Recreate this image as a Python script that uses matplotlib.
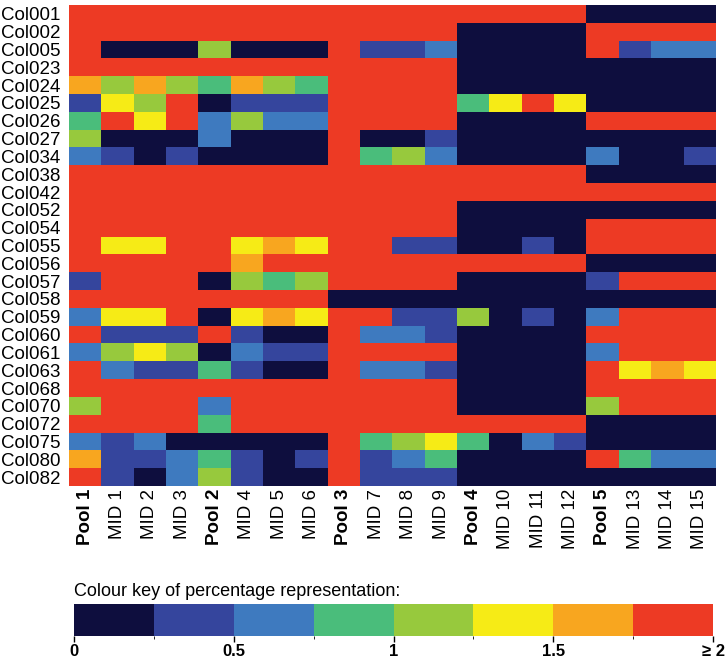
import numpy as np
import matplotlib
matplotlib.use("Agg")
import matplotlib.pyplot as plt
from matplotlib.colors import ListedColormap, BoundaryNorm
from matplotlib.cm import ScalarMappable

plt.rcParams['font.family'] = ['Liberation Sans', 'DejaVu Sans']

rows = ["Col001", "Col002", "Col005", "Col023", "Col024", "Col025", "Col026",
        "Col027", "Col034", "Col038", "Col042", "Col052", "Col054", "Col055",
        "Col056", "Col057", "Col058", "Col059", "Col060", "Col061", "Col063",
        "Col068", "Col070", "Col072", "Col075", "Col080", "Col082"]
cols = ["Pool 1", "MID 1", "MID 2", "MID 3", "Pool 2", "MID 4", "MID 5", "MID 6",
        "Pool 3", "MID 7", "MID 8", "MID 9", "Pool 4", "MID 10", "MID 11", "MID 12",
        "Pool 5", "MID 13", "MID 14", "MID 15"]

# percentage representation (values >= 2 shown as 2)
pct = [
    [2, 2, 2, 2, 2, 2, 2, 2, 2, 2, 2, 2, 2, 2, 2, 2, .1, .1, .1, .1],
    [2, 2, 2, 2, 2, 2, 2, 2, 2, 2, 2, 2, .1, .1, .1, .1, 2, 2, 2, 2],
    [2, .1, .1, .1, 1.1, .1, .1, .1, 2, .4, .4, .6, .1, .1, .1, .1, 2, .4, .6, .6],
    [2, 2, 2, 2, 2, 2, 2, 2, 2, 2, 2, 2, .1, .1, .1, .1, .1, .1, .1, .1],
    [1.6, 1.1, 1.6, 1.1, .9, 1.6, 1.1, .9, 2, 2, 2, 2, .1, .1, .1, .1, .1, .1, .1, .1],
    [.4, 1.4, 1.1, 2, .1, .4, .4, .4, 2, 2, 2, 2, .9, 1.4, 2, 1.4, .1, .1, .1, .1],
    [.9, 2, 1.4, 2, .6, 1.1, .6, .6, 2, 2, 2, 2, .1, .1, .1, .1, 2, 2, 2, 2],
    [1.1, .1, .1, .1, .6, .1, .1, .1, 2, .1, .1, .4, .1, .1, .1, .1, .1, .1, .1, .1],
    [.6, .4, .1, .4, .1, .1, .1, .1, 2, .9, 1.1, .6, .1, .1, .1, .1, .6, .1, .1, .4],
    [2, 2, 2, 2, 2, 2, 2, 2, 2, 2, 2, 2, 2, 2, 2, 2, .1, .1, .1, .1],
    [2, 2, 2, 2, 2, 2, 2, 2, 2, 2, 2, 2, 2, 2, 2, 2, 2, 2, 2, 2],
    [2, 2, 2, 2, 2, 2, 2, 2, 2, 2, 2, 2, .1, .1, .1, .1, .1, .1, .1, .1],
    [2, 2, 2, 2, 2, 2, 2, 2, 2, 2, 2, 2, .1, .1, .1, .1, 2, 2, 2, 2],
    [2, 1.4, 1.4, 2, 2, 1.4, 1.6, 1.4, 2, 2, .4, .4, .1, .1, .4, .1, 2, 2, 2, 2],
    [2, 2, 2, 2, 2, 1.6, 2, 2, 2, 2, 2, 2, 2, 2, 2, 2, .1, .1, .1, .1],
    [.4, 2, 2, 2, .1, 1.1, .9, 1.1, 2, 2, 2, 2, .1, .1, .1, .1, .4, 2, 2, 2],
    [2, 2, 2, 2, 2, 2, 2, 2, .1, .1, .1, .1, .1, .1, .1, .1, .1, .1, .1, .1],
    [.6, 1.4, 1.4, 2, .1, 1.4, 1.6, 1.4, 2, 2, .4, .4, 1.1, .1, .4, .1, .6, 2, 2, 2],
    [2, .4, .4, .4, 2, .4, .1, .1, 2, .6, .6, .4, .1, .1, .1, .1, 2, 2, 2, 2],
    [.6, 1.1, 1.4, 1.1, .1, .6, .4, .4, 2, 2, 2, 2, .1, .1, .1, .1, .6, 2, 2, 2],
    [2, .6, .4, .4, .9, .4, .1, .1, 2, .6, .6, .4, .1, .1, .1, .1, 2, 1.4, 1.6, 1.4],
    [2, 2, 2, 2, 2, 2, 2, 2, 2, 2, 2, 2, .1, .1, .1, .1, 2, 2, 2, 2],
    [1.1, 2, 2, 2, .6, 2, 2, 2, 2, 2, 2, 2, .1, .1, .1, .1, 1.1, 2, 2, 2],
    [2, 2, 2, 2, .9, 2, 2, 2, 2, 2, 2, 2, 2, 2, 2, 2, .1, .1, .1, .1],
    [.6, .4, .6, .1, .1, .1, .1, .1, 2, .9, 1.1, 1.4, .9, .1, .6, .4, .1, .1, .1, .1],
    [1.6, .4, .4, .6, .9, .4, .1, .4, 2, .4, .6, .9, .1, .1, .1, .1, 2, .9, .6, .6],
    [2, .4, .1, .6, 1.1, .4, .1, .1, 2, .4, .4, .4, .1, .1, .1, .1, .1, .1, .1, .1],
]

key_colours = ['#0e0e3e', '#35459d', '#3e7abf', '#4abd7b',
               '#97c93d', '#f6eb16', '#f8a61f', '#ed3a24']
bounds = np.arange(0, 2.01, 0.25)

cmap = ListedColormap(key_colours)
norm = BoundaryNorm(bounds, ncolors=8, clip=True)

fig = plt.figure(figsize=(7.27, 6.59), dpi=100)
ax = fig.add_axes([69 / 727, 1 - 486 / 659, 647 / 727, 481 / 659])
data = np.clip(np.array(pct), 0, 1.99)
ax.imshow(data, cmap=cmap, norm=norm, aspect='auto', interpolation='nearest')

ax.set_yticks(range(len(rows)))
ax.set_yticklabels(rows, fontsize=13.5)
ax.set_xticks(range(len(cols)))
ax.set_xticklabels(cols, rotation=90, fontsize=13.5)
for lab in ax.get_xticklabels():
    if lab.get_text().startswith("Pool"):
        lab.set_fontweight('bold')
ax.tick_params(axis='y', length=0, pad=6)
ax.tick_params(axis='x', length=0, pad=2)
for s in ax.spines.values():
    s.set_visible(False)

# colour key
cax = fig.add_axes([74 / 727, 1 - 636 / 659, 639 / 727, 32 / 659])
cb = fig.colorbar(ScalarMappable(norm=BoundaryNorm(bounds, 8), cmap=cmap),
                  cax=cax, orientation='horizontal')
cb.outline.set_visible(False)
cb.set_ticks([0, 0.5, 1, 1.5, 2])
cb.set_ticklabels(["0", "0.5", "1", "1.5", "≥ 2"], fontweight='bold', fontsize=12)
cax.tick_params(length=4, width=1, pad=2)
fig.text(74 / 727, 1 - 592 / 659, "Colour key of percentage representation:",
         fontsize=13, va='center', ha='left')

fig.savefig("out.png", dpi=100)
